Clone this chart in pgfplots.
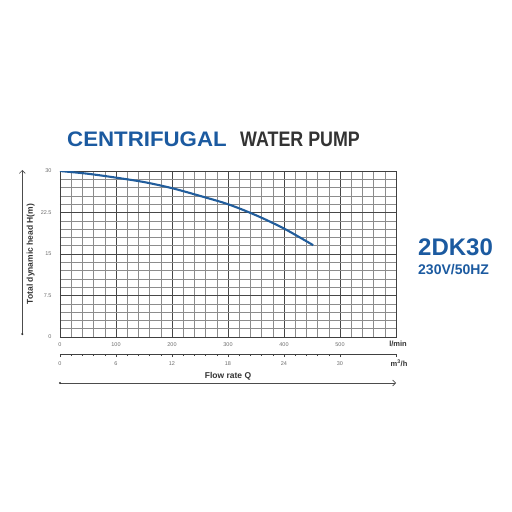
\documentclass[border=0pt]{standalone}
\usepackage{pgfplots}
\pgfplotsset{compat=1.18}
\usepackage{fontspec}
\setmainfont{Liberation Sans}
\usetikzlibrary{arrows.meta}

\definecolor{titleblue}{RGB}{27,90,160}
\definecolor{curveblue}{RGB}{33,93,156}
\definecolor{darktext}{RGB}{51,51,51}
\definecolor{ticktext}{RGB}{110,110,110}

% pump curve: flow (l/min) vs head (m)
\pgfplotstableread{
Q    H
0    30.0
50   29.5
100  28.8
150  28.0
200  26.9
250  25.5
300  24.0
350  22.0
400  19.6
452  16.6
}\pumpcurve

\begin{document}
\begin{tikzpicture}
\begin{axis}[
    scale only axis,
    width=336pt, height=166pt,
    xmin=0, xmax=600, ymin=0, ymax=30,
    xtick={0,100,...,600},
    xticklabels={0,100,200,300,400,500,},
    ytick={0,7.5,15,22.5,30},
    yticklabels={0,7.5,15,22.5,30},
    minor x tick num=4,
    minor y tick num=4,
    major tick length=0pt, minor tick length=0pt,
    grid=both,
    major grid style={draw=black!72, line width=0.6pt},
    minor grid style={draw=black!45, line width=0.45pt},
    axis line style={draw=black!75, line width=0.7pt},
    /pgf/number format/assume math mode=true,
    ticklabel style={font=\fontsize{5.5}{6}\selectfont, text=ticktext},
    yticklabel style={xshift=-5pt},
    xticklabel style={yshift=-2pt},
]
\addplot[curveblue, line width=2.1pt, smooth] table[x=Q, y=H] {\pumpcurve};
\end{axis}

% secondary flow scale in m3/h
\begin{axis}[
    at={(0,-17pt)}, anchor=south west,
    scale only axis,
    width=336pt, height=10pt,
    xmin=0, xmax=36, ymin=0, ymax=1,
    axis x line*=bottom,
    hide y axis,
    xtick={0,6,...,30},
    extra x ticks={36},
    extra x tick labels={},
    minor x tick num=4,
    tick align=outside,
    major tick length=3pt, minor tick length=2pt,
    tick style={draw=black!75, line width=0.5pt},
    axis line style={draw=black!75, line width=0.6pt},
    /pgf/number format/assume math mode=true,
    ticklabel style={font=\fontsize{5.5}{6}\selectfont, text=ticktext},
    xticklabel style={yshift=-1pt},
]
\addplot[draw=none] coordinates {(0,0) (36,0)};
\end{axis}

% titles and annotations
\node[anchor=base west, inner sep=0pt, text=titleblue]
  at (7pt,190.3pt) {\scalebox{1.06}[1]{\fontsize{21}{24}\selectfont\bfseries CENTRIFUGAL}};
\node[anchor=base west, inner sep=0pt, text=darktext]
  at (180pt,190.3pt) {\scalebox{0.85}[1]{\fontsize{21}{24}\selectfont\bfseries WATER PUMP}};
\node[anchor=base west, inner sep=0pt, text=titleblue]
  at (358pt,82pt) {\fontsize{24}{26}\selectfont\bfseries 2DK30};
\node[anchor=base west, inner sep=0pt, text=titleblue]
  at (358pt,62.7pt) {\fontsize{14}{16}\selectfont\bfseries 230V/50HZ};

\node[inner sep=0pt, text=darktext] at (338pt,-7pt) {\fontsize{7.5}{8}\selectfont\bfseries l/min};
\node[inner sep=0pt, text=darktext] at (339pt,-26pt) {\fontsize{7.5}{8}\selectfont\bfseries m\textsuperscript{3}/h};
\node[inner sep=0pt, text=darktext] at (168pt,-39.7pt) {\fontsize{8.5}{9}\selectfont\bfseries Flow rate Q};
\node[inner sep=0pt, text=darktext, rotate=90] at (-29.3pt,83pt) {\fontsize{8.5}{9}\selectfont\bfseries Total dynamic head H(m)};

\draw[black!70, line width=0.6pt, -{Straight Barb[length=3pt]}] (0pt,-46pt) -- (336pt,-46pt);
\fill[black!80] (0pt,-46pt) circle (1.2pt);
\draw[black!70, line width=0.6pt, -{Straight Barb[length=3pt]}] (-37.7pt,3pt) -- (-37.7pt,167pt);
\fill[black!80] (-37.7pt,3pt) circle (1.2pt);

\pgfresetboundingbox
\path[use as bounding box] (-60pt,-175pt) rectangle (452pt,337pt);
\end{tikzpicture}
\end{document}
